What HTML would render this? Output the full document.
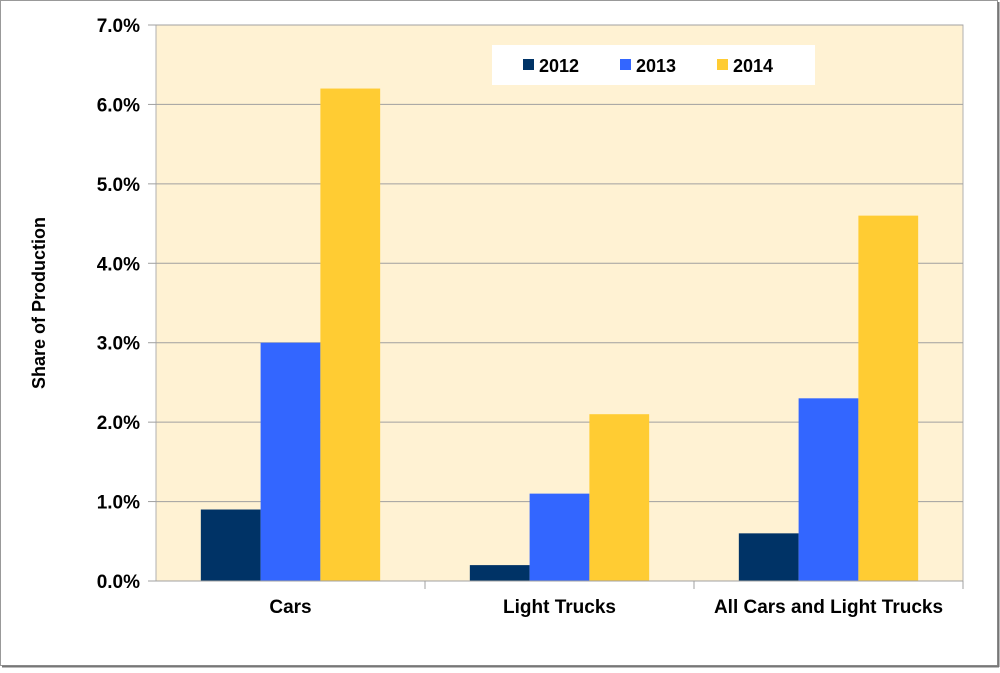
<!DOCTYPE html>
<html><head><meta charset="utf-8"><style>
body{margin:0;background:#fff;}
svg text{font-family:"Liberation Sans",Arial,sans-serif;font-weight:bold;}
</style></head><body>
<svg width="1000" height="668" viewBox="0 0 1000 668" xmlns="http://www.w3.org/2000/svg">
<rect x="0.5" y="0.5" width="997" height="665" fill="#fff" stroke="#999" stroke-width="1"/>
<line x1="998.5" y1="2" x2="998.5" y2="667" stroke="#777" stroke-width="2"/>
<line x1="2" y1="666.5" x2="999" y2="666.5" stroke="#777" stroke-width="2"/>
<rect x="156" y="25" width="807" height="556" fill="#fff2d3" stroke="#b0b0b0"/>
<g id="grid"></g>
<g id="bars"></g>
<g id="axes"></g>
<text transform="translate(45,303) rotate(-90)" text-anchor="middle" font-size="18">Share of Production</text>
<g>
<rect x="492" y="45" width="323" height="40" fill="#fff"/>
<g id="legend"></g>
</g>
</svg>
<script>
const categories=["Cars","Light Trucks","All Cars and Light Trucks"];
const seriesNames=["2012","2013","2014"];
const s2012=[0.9,0.2,0.6];
const s2013=[3.0,1.1,2.3];
const s2014=[6.2,2.1,4.6];
const yTicks=[0,1,2,3,4,5,6,7];
const colors=["#003366","#3366ff","#ffcc33"];
const NS="http://www.w3.org/2000/svg";
const x0=156,x1=963,y0=581,y1=25,ymax=7;
const y=v=>y0-(y0-y1)*v/ymax;
const cw=(x1-x0)/categories.length;
function mk(t,a,p){const e=document.createElementNS(NS,t);for(const k in a)e.setAttribute(k,a[k]);p.appendChild(e);return e;}
const grid=document.getElementById('grid'),axes=document.getElementById('axes'),bars=document.getElementById('bars');
yTicks.forEach(v=>{
 if(v>0){const g=mk('line',{x1:x0,x2:x1,y1:y(v),y2:y(v),stroke:'#a0a0a0'},grid);
 
 }
 const tk=mk('line',{x1:x0-8,x2:x0,y1:y(v),y2:y(v),stroke:'#a0a0a0'},axes);
 
 
 const t=mk('text',{x:x0-16,y:y(v)+7,'text-anchor':'end','font-size':'19'},axes);
 
 
 t.textContent=v.toFixed(1)+'%';
});
const series=[s2012,s2013,s2014];
const bw=cw/4.5;
categories.forEach((c,i)=>{
 const start=x0+i*cw+(cw-3*bw)/2;
 series.forEach((s,j)=>{
  const r=mk('rect',{x:start+j*bw,y:y(s[i]),width:bw,height:y0-y(s[i]),fill:colors[j]},bars);
  
  
 });
 const t=mk('text',{x:x0+i*cw+cw/2,y:613,'text-anchor':'middle','font-size':'19'},axes);
 
 
 t.textContent=c;
 const tk=mk('line',{x1:x0+(i+1)*cw,x2:x0+(i+1)*cw,y1:y0,y2:y0+8,stroke:'#a0a0a0'},axes);
 
 
});
const xa=mk('line',{x1:x0,x2:x1,y1:y0,y2:y0,stroke:'#a0a0a0'},axes);


const lg=document.getElementById('legend');
seriesNames.forEach((n,j)=>{
 const lx=523+j*97;
 const r=mk('rect',{x:lx,y:59,width:11,height:11,fill:colors[j]},lg);
 
 
 const t=mk('text',{x:lx+16,y:72,'font-size':'18'},lg);
 
 
 t.textContent=n;
});
</script>
</body></html>
